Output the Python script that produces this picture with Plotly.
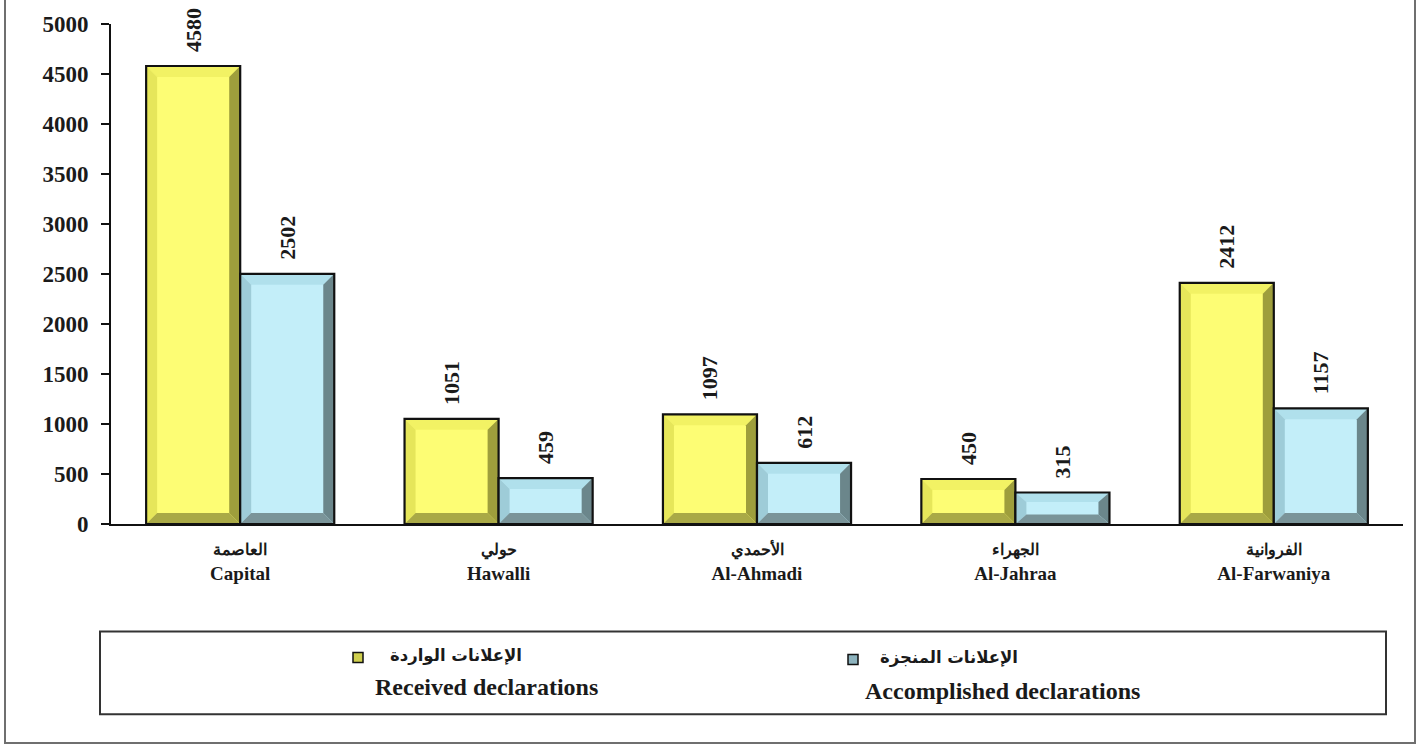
import plotly.graph_objects as go

categories_ar = ["العاصمة", "حولي", "الأحمدي", "الجهراء", "الفروانية"]
categories_en = ["Capital", "Hawalli", "Al-Ahmadi", "Al-Jahraa", "Al-Farwaniya"]
received = [4580, 1051, 1097, 450, 2412]
accomplished = [2502, 459, 612, 315, 1157]
series_ar = ["الإعلانات الواردة", "الإعلانات المنجزة"]
series_en = ["Received declarations", "Accomplished declarations"]
y_ticks = [0, 500, 1000, 1500, 2000, 2500, 3000, 3500, 4000, 4500, 5000]

W, H = 1420, 749
ML, MR, MT, MB = 111, 17, 22, 225
PW, PH = W - ML - MR, H - MT - MB
YMAX = 5000
XMIN, XMAX = -0.5, len(categories_en) - 0.5

def px2x(px):
    return (px - ML) / PW

def py2y(py):
    return (H - MB - py) / PH

FONT = "Liberation Serif, Times New Roman, serif"
AFONT = "DejaVu Sans, Noto Sans, sans-serif"
BW = 0.364  # bar width in category units
bev_x = 11 / (PW / (XMAX - XMIN))
bev_y_full = 11 * YMAX / PH

styles = [
    dict(face="#FDFD74", top="#F2F264", left="#E6E65A", right="#9E9E3C", bottom="#A9A946",
         marker="#CFCF4E", offset=-BW),
    dict(face="#C3EEF9", top="#B0E0EC", left="#9ECCD8", right="#6B868B", bottom="#7A9499",
         marker="#8DB3BE", offset=0.0),
]

fig = go.Figure()
shapes = []
for s, vals in enumerate([received, accomplished]):
    st = styles[s]
    fig.add_trace(go.Bar(
        x=list(range(len(vals))), y=vals, width=BW, offset=st["offset"],
        marker=dict(color=st["face"], line=dict(color="black", width=0)),
        text=["\u00a0\u00a0" + str(v) for v in vals], textposition="outside", textangle=-90,
        constraintext="none", cliponaxis=False,
        textfont=dict(family=FONT, size=22, color="#1a1a1a", weight="bold"),
        showlegend=False, hoverinfo="skip",
    ))
    for i, v in enumerate(vals):
        x0 = i + st["offset"]
        x1 = x0 + BW
        by = min(bev_y_full, 0.3 * v)
        bx = bev_x
        def poly(pts, color):
            path = "M " + " L ".join(f"{a:.5f},{b:.3f}" for a, b in pts) + " Z"
            shapes.append(dict(type="path", path=path, xref="x", yref="y",
                               fillcolor=color, line=dict(width=0), layer="above"))
        poly([(x0, v), (x1, v), (x1 - bx, v - by), (x0 + bx, v - by)], st["top"])
        poly([(x0, 0), (x0, v), (x0 + bx, v - by), (x0 + bx, by)], st["left"])
        poly([(x1, 0), (x1, v), (x1 - bx, v - by), (x1 - bx, by)], st["right"])
        poly([(x0, 0), (x1, 0), (x1 - bx, by), (x0 + bx, by)], st["bottom"])
        shapes.append(dict(type="rect", xref="x", yref="y", x0=x0, x1=x1, y0=0, y1=v,
                           line=dict(color="#111", width=2.2), fillcolor="rgba(0,0,0,0)",
                           layer="above"))

# outer frame
shapes.append(dict(type="rect", xref="paper", yref="paper",
                   x0=px2x(5), x1=px2x(1415), y0=py2y(744), y1=py2y(-10),
                   line=dict(color="#6f6f6f", width=2), fillcolor="rgba(0,0,0,0)"))
# legend box
shapes.append(dict(type="rect", xref="paper", yref="paper",
                   x0=px2x(100), x1=px2x(1386), y0=py2y(715), y1=py2y(632),
                   line=dict(color="#333", width=2), fillcolor="rgba(0,0,0,0)"))

annotations = []
leg_pos = [dict(mx=353, my=653, ax=388, ay=657, ex=486, ey=688),
           dict(mx=848, my=655, ax=878, ay=659, ex=1002, ey=692)]
for s in range(2):
    lp = leg_pos[s]
    shapes.append(dict(type="rect", xref="paper", yref="paper",
                       x0=px2x(lp["mx"]), x1=px2x(lp["mx"] + 10),
                       y0=py2y(lp["my"] + 10), y1=py2y(lp["my"]),
                       line=dict(color="#111", width=1.5), fillcolor=styles[s]["marker"]))
    annotations.append(dict(xref="paper", yref="paper", x=px2x(lp["ax"]), y=py2y(lp["ay"]),
                            xanchor="left", yanchor="middle", showarrow=False,
                            text=series_ar[s],
                            font=dict(family=AFONT, size=16.5, color="#1a1a1a", weight="bold")))
    annotations.append(dict(xref="paper", yref="paper", x=px2x(lp["ex"]), y=py2y(lp["ey"]),
                            xanchor="center", yanchor="middle", showarrow=False,
                            text=series_en[s],
                            font=dict(family=FONT, size=24, color="#1a1a1a", weight="bold")))

ticktext = [f'<span style="font-size:16px">{a}</span><br>{e}'
            for a, e in zip(categories_ar, categories_en)]

fig.update_layout(
    width=W, height=H,
    margin=dict(l=ML, r=MR, t=MT, b=MB, pad=0),
    paper_bgcolor="white", plot_bgcolor="white",
    barmode="overlay",
    shapes=shapes, annotations=annotations,
    xaxis=dict(range=[XMIN, XMAX], tickmode="array", tickvals=list(range(len(categories_en))),
               ticktext=ticktext, showgrid=False, zeroline=False,
               showline=True, linecolor="#111", linewidth=2, ticks="",
               tickfont=dict(family=FONT, size=19, color="#1a1a1a", weight="bold"),
               ticklabelstandoff=6, fixedrange=True),
    yaxis=dict(range=[0, YMAX], tickmode="array", tickvals=y_ticks,
               ticktext=[str(t) for t in y_ticks], showgrid=False, zeroline=False,
               showline=True, linecolor="#111", linewidth=2,
               ticks="outside", ticklen=8, tickwidth=1.5, tickcolor="#111",
               tickfont=dict(family=FONT, size=23, color="#1a1a1a", weight="bold"),
               ticklabelstandoff=8, fixedrange=True),
)

fig.write_html("out.html", config={"displayModeBar": False},
               post_script="document.body.style.margin='0';document.body.style.padding='0';")
